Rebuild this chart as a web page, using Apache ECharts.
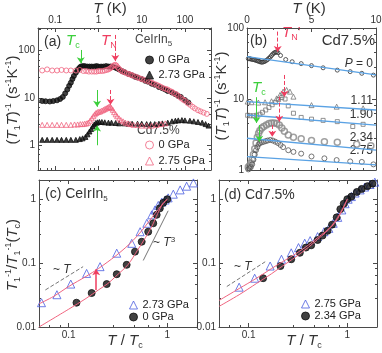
<!DOCTYPE html>
<html>
<head>
<meta charset="utf-8">
<script src="https://cdn.jsdelivr.net/npm/echarts@6/dist/echarts.min.js"></script>
<style>html,body{margin:0;padding:0;background:#fff}#main{width:382px;height:353px}</style>
</head>
<body>
<div id="main"></div>
<script>
var FONT = '"Liberation Sans", Arial, sans-serif';
var INK = '#333';
var FRAME = '#4a4a4a';
var PINK = '#f0647f';
var GREEN = '#3ccf3c';
var RED = '#ef3d5f';
var SKY = '#5aa2e4';
var ROYAL = '#4a5ce0';

// ---- panel (a): (T1T)^-1 vs T, CeIrIn5 and Cd7.5%
var ceT0 = [0.05,0.06,0.075,0.09,0.11,0.13,0.15,0.17,0.19,0.21,0.23,0.25,0.27,0.3,0.33,0.36,0.39,0.43,0.48,0.55,0.62,0.7,0.8,0.9,1.0,1.15,1.3,1.5,1.7,1.9,2.1,2.4,2.7,3.0,3.5,4,5,6,7,8,10,12,14,17,20,25,30,35,40,50,60,70,80,100,120];
var ceV0 = [8.6,8.5,8.4,8.6,8.9,9.5,10.5,12.5,15,18,21,25,29,34,39,43,46,47,47,46,46,46,46,47,46,46,46,47,46,46,45,44,42,40,37,35,32,30,28,27,25,23,22,20,19,17,16,15,14,13,12,11,10.5,9,8];
var ceT1 = [0.05,0.065,0.085,0.11,0.14,0.18,0.23,0.3,0.37,0.43,0.5,0.56,0.62,0.68,0.74,0.8,0.87,0.95,1.05,1.2,1.4,1.7,2,2.5,3,4,5,6,8,10,13,16,20,25,30,40,50,60,70,85,100,130,160,200,250,300,350];
var ceV1 = [1.3,1.3,1.3,1.3,1.3,1.3,1.3,1.3,1.35,1.4,1.5,1.7,1.95,2.2,2.5,2.75,2.95,3.05,3.1,3.1,3.05,3.0,3.0,2.95,2.9,2.9,2.85,2.85,2.85,2.85,2.8,2.8,2.8,2.85,2.9,3.0,3.2,3.3,3.35,3.4,3.35,3.3,3.2,3.1,3.0,2.8,2.6];
var cdT0 = [0.05,0.065,0.085,0.11,0.14,0.18,0.23,0.3,0.37,0.45,0.52,0.6,0.7,0.8,0.9,1.0,1.1,1.25,1.4,1.55,1.7,1.85,2.0,2.15,2.3,2.45,2.6,2.8,3.0,3.3,3.6,4.0,4.5,5,5.5,6,7,8,9,10,11.5,13,15,17,19,22,25,28,32,36,40,45,50,56,63,70,80,90,100,115,130,150,170,200,230,270,320];
var cdV0 = [38,40,38,38,39,38,38,38,39,37,37,36,36,36,36,37,37,37,38,39,40,42,44,47,49,50,48,44,41,38,36,35,33,32,31,30,28.5,27,26,25,24,23,22,21,20,19,18,17,16,15.5,15,14,13.5,12.5,12,11,10,9.2,8.7,7.8,7.2,6.5,6,5.5,5.2,4.9,4.6];
var cdT1 = [0.05,0.065,0.085,0.11,0.14,0.18,0.23,0.28,0.33,0.38,0.43,0.48,0.53,0.58,0.64,0.7,0.76,0.82,0.88,0.95,1.02,1.1,1.2,1.3,1.4,1.5,1.6,1.7,1.8,1.9,2.0,2.15,2.3,2.5,2.7,3.0,3.3,3.7,4.2,4.8,5.5,6.5,8,10,13,17,22,28,35];
var cdV1 = [2.7,2.7,2.7,2.7,2.7,2.7,2.7,2.75,2.75,2.8,2.8,2.85,2.9,3.0,3.3,3.7,4.1,4.5,4.8,5.0,5.1,5.2,5.4,5.6,5.8,6.0,6.2,6.4,6.5,6.4,6.1,5.6,5.0,4.5,4.1,3.7,3.4,3.2,3.0,2.9,2.8,2.7,2.7,2.6,2.6,2.6,2.7,2.8,2.9];
// arrows: [T, from, to, colour, line type]
var arrowsA = [[0.39,103,54,GREEN,'solid'],[2.45,214,60,RED,'dashed'],[0.93,14.7,6.5,GREEN,'solid'],[1.9,14.7,7.2,RED,'dashed'],[0.93,1.0,2.6,GREEN,'solid']];

// ---- panel (b): Cd7.5% under pressure, linear T
var bT0 = [0.1,0.2,0.3,0.4,0.5,0.6,0.7,0.8,0.9,1.0,1.1,1.2,1.3,1.4,1.5,1.6,1.7,1.8,1.9,2.0,2.1,2.2,2.3,2.4,2.6,3.0,3.5,4.2,5,5.9,7,8,8.9,9.8];
var bV0 = [37,37,36.5,36,36,35.5,35,34.5,34,33.5,33,33,33.5,34,35,36,37.5,39,41,43,44.5,45.5,46,45,41,36,33.5,31.5,29.5,27.5,25.5,24.3,23,21.7];
var bT1 = [0.05,0.36,0.88,1.4,1.9,2.3,2.56,2.8,3.07,3.33,3.6,5.0,6.95,9.0];
var bV1 = [9.2,9.0,8.9,9.0,9.3,10.2,11.4,12.7,13.4,12.7,10.8,8.2,7.8,7.4];
var bT2 = [0.05,0.25,0.5,0.75,1.0,1.2,1.45,1.7,1.95,2.2,2.45,2.7,2.95,3.2,3.6,4.2,5.0,5.9,7.0,8.2,9.0];
var bV2 = [5.9,5.8,5.8,5.9,6.1,6.5,7.0,7.6,8.3,9.0,9.8,10.5,10.0,8.0,6.3,5.5,5.2,5.0,4.8,4.1,4.4];
var bT3 = [0.1,0.2,0.3,0.4,0.5,0.6,0.7,0.8,0.9,1.0,1.15,1.3,1.5,1.7,1.9,2.1,2.3,2.5,2.7,2.9,3.2,3.6,4.2,5.0,6.0,7.0,8.5,9.6];
var bV3 = [1.1,1.15,1.25,1.4,1.65,2.0,2.4,2.9,3.3,3.6,3.9,4.1,4.3,4.5,4.6,4.6,4.5,4.3,3.9,3.5,3.1,2.9,2.75,2.6,2.5,2.45,2.3,2.2];
var bT4 = [0.1,0.2,0.3,0.4,0.5,0.6,0.7,0.8,0.9,1.0,1.15,1.3,1.45,1.6,1.8,2.0,2.2,2.4,2.6,2.8,3.2,3.6,4.2,5.0,6.0,6.95,8.0,8.9,9.8];
var bV4 = [1.02,1.05,1.1,1.2,1.4,1.65,1.9,2.1,2.3,2.4,2.45,2.5,2.55,2.6,2.65,2.6,2.5,2.4,2.25,2.1,1.9,1.8,1.7,1.55,1.46,1.38,1.32,1.3,1.2];
var bLineT = [0, 10];
var bLines = [[39.5,21.8],[9.2,7.0],[5.95,4.3],[2.8,1.9],[1.54,1.18]];
var arrowsB = [[2.38,89,46,RED,'dashed'],[2.9,21.8,10.8,RED,'dashed'],[2.5,10.8,4.8,RED,'dashed'],[1.96,4.3,2.94,RED,'dashed'],[0.74,10.6,4.6,GREEN,'solid'],[0.95,4.3,2.5,GREEN,'solid']];

// ---- panel (c): CeIrIn5 normalised
var cT1 = [0.053,0.076,0.105,0.152,0.208,0.307,0.436,0.53,0.62,0.695,0.75,0.81,0.88,0.95,1.02,1.15,1.35,1.57,1.84];
var cV1 = [0.024,0.032,0.047,0.069,0.088,0.143,0.204,0.31,0.42,0.57,0.68,0.8,0.9,0.97,1.05,1.2,1.4,1.6,1.8];
var cT0 = [0.12,0.171,0.243,0.307,0.387,0.47,0.55,0.64,0.72,0.78,0.84,0.91,1.0];
var cV0 = [0.024,0.034,0.047,0.067,0.094,0.151,0.216,0.31,0.42,0.57,0.72,0.88,1.0];
var cFitT = [0.05,0.07,0.1,0.15,0.2,0.3,0.4,0.5,0.6,0.7,0.8,0.9,1.0];
var cFit1 = [0.023,0.03,0.043,0.062,0.082,0.13,0.19,0.27,0.38,0.52,0.68,0.85,1.0];
var cFit0T = [0.05,0.1,0.15,0.2,0.25,0.3,0.4,0.5,0.6,0.7,0.8,0.9,1.0];
var cFit0 = [0.01,0.019,0.028,0.038,0.048,0.062,0.095,0.16,0.25,0.38,0.6,0.85,1.0];
var cLinT = [[0.058,0.038],[0.14,0.088]];
var cCubeT = [[0.57,0.11],[1.02,0.66]];
var arrowsC = [[0.19,0.038,0.08,RED,'solid']];

// ---- panel (d): Cd7.5% normalised
var dT1 = [0.08,0.115,0.165,0.215,0.27,0.32,0.37,0.42,0.5,0.58,0.65,0.72,0.8,0.88,0.95,1.02,1.1,1.2,1.35,1.5,1.7,1.9];
var dV1 = [0.042,0.058,0.09,0.115,0.145,0.175,0.205,0.225,0.26,0.31,0.35,0.42,0.52,0.68,0.85,1.0,1.1,1.25,1.4,1.55,1.7,1.85];
var dT0 = [0.14,0.21,0.27,0.33,0.38,0.43,0.5,0.56,0.63,0.7,0.78,0.85,0.92,1.0,1.1,1.25,1.4,1.6,1.8];
var dV0 = [0.058,0.09,0.115,0.145,0.175,0.19,0.23,0.27,0.32,0.4,0.52,0.7,0.85,1.0,1.1,1.3,1.45,1.6,1.75];
var dFitT = [0.05,0.08,0.12,0.17,0.22,0.3,0.4,0.5,0.6,0.7,0.8,0.9,1.0];
var dFit1 = [0.026,0.04,0.058,0.082,0.105,0.14,0.19,0.25,0.31,0.39,0.52,0.72,1.0];
var dFit0 = [0.021,0.032,0.048,0.068,0.09,0.125,0.175,0.235,0.3,0.38,0.5,0.7,1.0];
var dLinT = [[0.06,0.043],[0.147,0.105]];

var legendText = {ce0:'0 GPa', ce273:'2.73 GPa', cd0:'0 GPa', cd275:'2.75 GPa', c273:'2.73 GPa', c0:'0 GPa', d275:'2.75 GPa', d234:'2.34 GPa'};

function zip(xs, ys) { return xs.map(function (x, i) { return [x, ys[i]]; }); }

function arrows(list, w) {
  return {
    silent: true, animation: false, symbol: ['none', 'arrow'], symbolSize: 6, label: {show: false},
    emphasis: {disabled: true},
    data: list.map(function (a) {
      return [{coord: [a[0], a[1]], lineStyle: {color: a[3], type: a[4], width: w || 1}}, {coord: [a[0], a[2]]}];
    })
  };
}

function axis(kind, grid, pos, min, max, labels, extra) {
  var a = {
    type: kind, gridIndex: grid, position: pos, min: min, max: max,
    axisLine: {show: true, onZero: false, lineStyle: {color: FRAME, width: 1}},
    axisTick: {show: true, inside: true, length: 4, lineStyle: {color: FRAME}},
    minorTick: {show: true, length: 2, lineStyle: {color: FRAME}},
    axisLabel: {show: labels, color: INK, fontSize: 10, fontFamily: FONT, margin: 3, showMinLabel: false, showMaxLabel: false},
    splitLine: {show: false}
  };
  if (extra) for (var k in extra) a[k] = extra[k];
  return a;
}

function scatter(name, xi, data, symbol, size, fill, stroke, bw) {
  return {
    name: name, type: 'scatter', xAxisIndex: xi, yAxisIndex: xi, data: data,
    symbol: symbol, symbolSize: size, animation: false,
    itemStyle: {color: fill, borderColor: stroke, borderWidth: bw || 1}
  };
}

function line(xi, data, color, width, type, smooth) {
  return {
    type: 'line', xAxisIndex: xi, yAxisIndex: xi, data: data, showSymbol: false, symbol: 'none',
    smooth: smooth || false, animation: false, silent: true,
    lineStyle: {color: color, width: width, type: type || 'solid'}
  };
}

var chart = echarts.init(document.getElementById('main'), null, {renderer: 'canvas'});

var xAxes = [
  axis('log', 0, 'top', 0.04, 400, true),
  axis('log', 0, 'bottom', 0.04, 400, false),
  axis('value', 1, 'top', 0, 10, true, {interval: 5, minorTick: {show: true, splitNumber: 5, length: 2, lineStyle: {color: FRAME}}}),
  axis('value', 1, 'bottom', 0, 10, false, {interval: 5, minorTick: {show: true, splitNumber: 5, length: 2, lineStyle: {color: FRAME}}}),
  axis('log', 2, 'bottom', 0.05, 2, true),
  axis('log', 2, 'top', 0.05, 2, false),
  axis('log', 3, 'bottom', 0.05, 2, true),
  axis('log', 3, 'top', 0.05, 2, false)
];
xAxes[2].axisLabel.showMinLabel = true;
xAxes[2].axisLabel.showMaxLabel = true;

var yAxes = [
  axis('log', 0, 'left', 0.3, 300, true),
  axis('log', 0, 'right', 0.3, 300, false),
  axis('log', 1, 'left', 1, 100, true),
  axis('log', 1, 'right', 1, 100, false),
  axis('log', 2, 'left', 0.01, 2, true),
  axis('log', 2, 'right', 0.01, 2, false),
  axis('log', 3, 'left', 0.01, 2, true),
  axis('log', 3, 'right', 0.01, 2, false)
];
yAxes[2].axisLabel.showMinLabel = true;
yAxes[2].axisLabel.showMaxLabel = true;
yAxes[4].axisLabel.showMinLabel = true;
yAxes[6].axisLabel.showMinLabel = true;

var series = [];
// (a)
var sCe0 = scatter('ce0', 0, zip(ceT0, ceV0), 'circle', 5, '#111', '#111');
sCe0.markLine = arrows(arrowsA);
series.push(sCe0);
series.push(scatter('ce273', 0, zip(ceT1, ceV1), 'triangle', 5, '#111', '#111'));
series.push(scatter('cd0', 0, zip(cdT0, cdV0), 'circle', 5, 'rgba(0,0,0,0)', PINK));
series.push(scatter('cd275', 0, zip(cdT1, cdV1), 'triangle', 5, 'rgba(0,0,0,0)', PINK));
// (b)
bLines.forEach(function (v) { series.push(line(2, zip(bLineT, v), SKY, 1.3)); });
var sB0 = scatter('b0', 2, zip(bT0, bV0), 'circle', 4, 'rgba(0,0,0,0)', '#333');
sB0.markLine = arrows(arrowsB);
series.push(sB0);
series.push(scatter('b111', 2, zip(bT1, bV1), 'triangle', 5, 'rgba(0,0,0,0)', '#777'));
series.push(scatter('b190', 2, zip(bT2, bV2), 'rect', 4, 'rgba(0,0,0,0)', '#777'));
series.push(scatter('b234', 2, zip(bT3, bV3), 'circle', 6, 'rgba(0,0,0,0)', '#888', 1.5));
series.push(scatter('b275', 2, zip(bT4, bV4), 'circle', 5, 'rgba(0,0,0,0)', '#555'));
// (c)
series.push(line(4, zip(cFitT, cFit1), PINK, 1, 'solid', 0.3));
series.push(line(4, zip(cFit0T, cFit0), PINK, 1, 'solid', 0.3));
series.push(line(4, cLinT, '#777', 1, 'dashed'));
series.push(line(4, cCubeT, '#777', 1));
var sC1 = scatter('c273', 4, zip(cT1, cV1), 'triangle', 8, 'rgba(0,0,0,0)', ROYAL);
sC1.markLine = arrows(arrowsC, 1.5);
series.push(sC1);
series.push(scatter('c0', 4, zip(cT0, cV0), 'circle', 7, '#111', '#111'));
// (d)
series.push(line(6, zip(dFitT, dFit1), PINK, 1, 'solid', 0.3));
series.push(line(6, zip(dFitT, dFit0), PINK, 1, 'solid', 0.3));
series.push(line(6, dLinT, '#777', 1, 'dashed'));
series.push(scatter('d275', 6, zip(dT1, dV1), 'triangle', 8, 'rgba(0,0,0,0)', ROYAL));
series.push(scatter('d234', 6, zip(dT0, dV0), 'circle', 7, '#111', '#111'));

function legend(names, left, top, lh, gap) {
  return {
    data: names, left: left, top: top, orient: 'vertical', padding: 0, itemGap: gap,
    itemWidth: 8, itemHeight: 8, selectedMode: false,
    itemStyle: {borderWidth: 1},
    formatter: function (n) { return legendText[n]; },
    textStyle: {fontFamily: FONT, fontSize: 11, color: '#222', lineHeight: lh}
  };
}

var rich = {
  i: {fontFamily: FONT, fontStyle: 'italic', fontSize: 15, lineHeight: 18},
  n: {fontFamily: FONT, fontSize: 15, lineHeight: 18},
  sub: {fontFamily: FONT, fontSize: 9, lineHeight: 8, verticalAlign: 'bottom'},
  sup: {fontFamily: FONT, fontSize: 9, lineHeight: 9, verticalAlign: 'top'},
  m: {fontFamily: FONT, fontSize: 12, lineHeight: 15},
  mi: {fontFamily: FONT, fontSize: 12, fontStyle: 'italic', lineHeight: 15},
  ms: {fontFamily: FONT, fontSize: 8, lineHeight: 7, verticalAlign: 'bottom'},
  ms3: {fontFamily: FONT, fontSize: 8, lineHeight: 8, verticalAlign: 'top'},
  big: {fontFamily: FONT, fontSize: 14, lineHeight: 17},
  bigc: {fontFamily: FONT, fontSize: 15, lineHeight: 17}
};

function txt(x, y, text, fill, align, rot) {
  return {
    type: 'text', x: x, y: y, rotation: rot || 0, silent: true,
    style: {text: text, rich: rich, fill: fill || INK, align: align || 'left', verticalAlign: 'middle', fontFamily: FONT}
  };
}

var ylabA = '{n|(}{i|T}{sub|1}{i|T}{n|)}{sup|-1}{n| (s}{sup|-1}{n|K}{sup|-1}{n|)}';
var graphics = [
  txt(110, 9, '{i|T}{n| (K)}', INK, 'center'),
  txt(309, 9, '{i|T}{n| (K)}', INK, 'center'),
  txt(13, 100, ylabA, INK, 'center', Math.PI / 2),
  txt(222, 96, ylabA, INK, 'center', Math.PI / 2),
  txt(13, 255, '{i|T}{sub|1}{sup|-1}{n|/}{i|T}{sub|1}{sup|-1}{n|(}{i|T}{sub|c}{n|)}', INK, 'center', Math.PI / 2),
  txt(125, 341, '{i|T}{n| / }{i|T}{sub|c}', INK, 'center'),
  txt(304, 341, '{i|T}{n| / }{i|T}{sub|c}', INK, 'center'),
  // (a)
  txt(44, 42, '{big|(a)}'),
  txt(66, 41, '{i|T}{sub|c}', GREEN),
  txt(101, 41, '{i|T}{sub|N}', RED),
  txt(135, 40, '{m|CeIrIn}{ms|5}', '#444'),
  txt(137, 131, '{m|Cd7.5%}', '#444'),
  // (b)
  txt(250, 41, '{big|(b)}'),
  txt(282, 33, '{i|T}{sub|N}{n|\'}', RED),
  txt(375, 41, '{bigc|Cd7.5%}', INK, 'right'),
  txt(252, 88, '{i|T}{sub|c}', GREEN),
  txt(373, 64, '{mi|P}{m| = 0}', INK, 'right'),
  txt(373, 101, '{m|1.11}', INK, 'right'),
  txt(373, 115, '{m|1.90}', INK, 'right'),
  txt(373, 138, '{m|2.34}', INK, 'right'),
  txt(373, 151, '{m|2.75}', INK, 'right'),
  // (c)
  txt(45, 194, '{big|(c) CeIrIn}{ms|5}'),
  txt(153, 243, '{m|~ }{mi|T}{ms3|3}'),
  txt(53, 270, '{m|~ }{mi|T}'),
  // (d)
  txt(224, 195, '{big|(d) Cd7.5%}'),
  txt(234, 267, '{m|~ }{mi|T}')
];

chart.setOption({
  animation: false,
  backgroundColor: '#fff',
  textStyle: {fontFamily: FONT},
  grid: [
    {left: 38, top: 28, width: 173, height: 142, outerBoundsMode: 'none'},
    {left: 247, top: 28, width: 129, height: 142, outerBoundsMode: 'none'},
    {left: 39, top: 180, width: 158, height: 147, outerBoundsMode: 'none'},
    {left: 219, top: 180, width: 158, height: 147, outerBoundsMode: 'none'}
  ],
  xAxis: xAxes,
  yAxis: yAxes,
  legend: [
    legend(['ce0', 'ce273'], 145, 53, 14, 1),
    legend(['cd0', 'cd275'], 145, 138, 14, 2),
    legend(['c273', 'c0'], 129, 299, 12, 0),
    legend(['d275', 'd234'], 301, 298, 12, 0)
  ],
  series: series,
  graphic: graphics
});
</script>
</body>
</html>
